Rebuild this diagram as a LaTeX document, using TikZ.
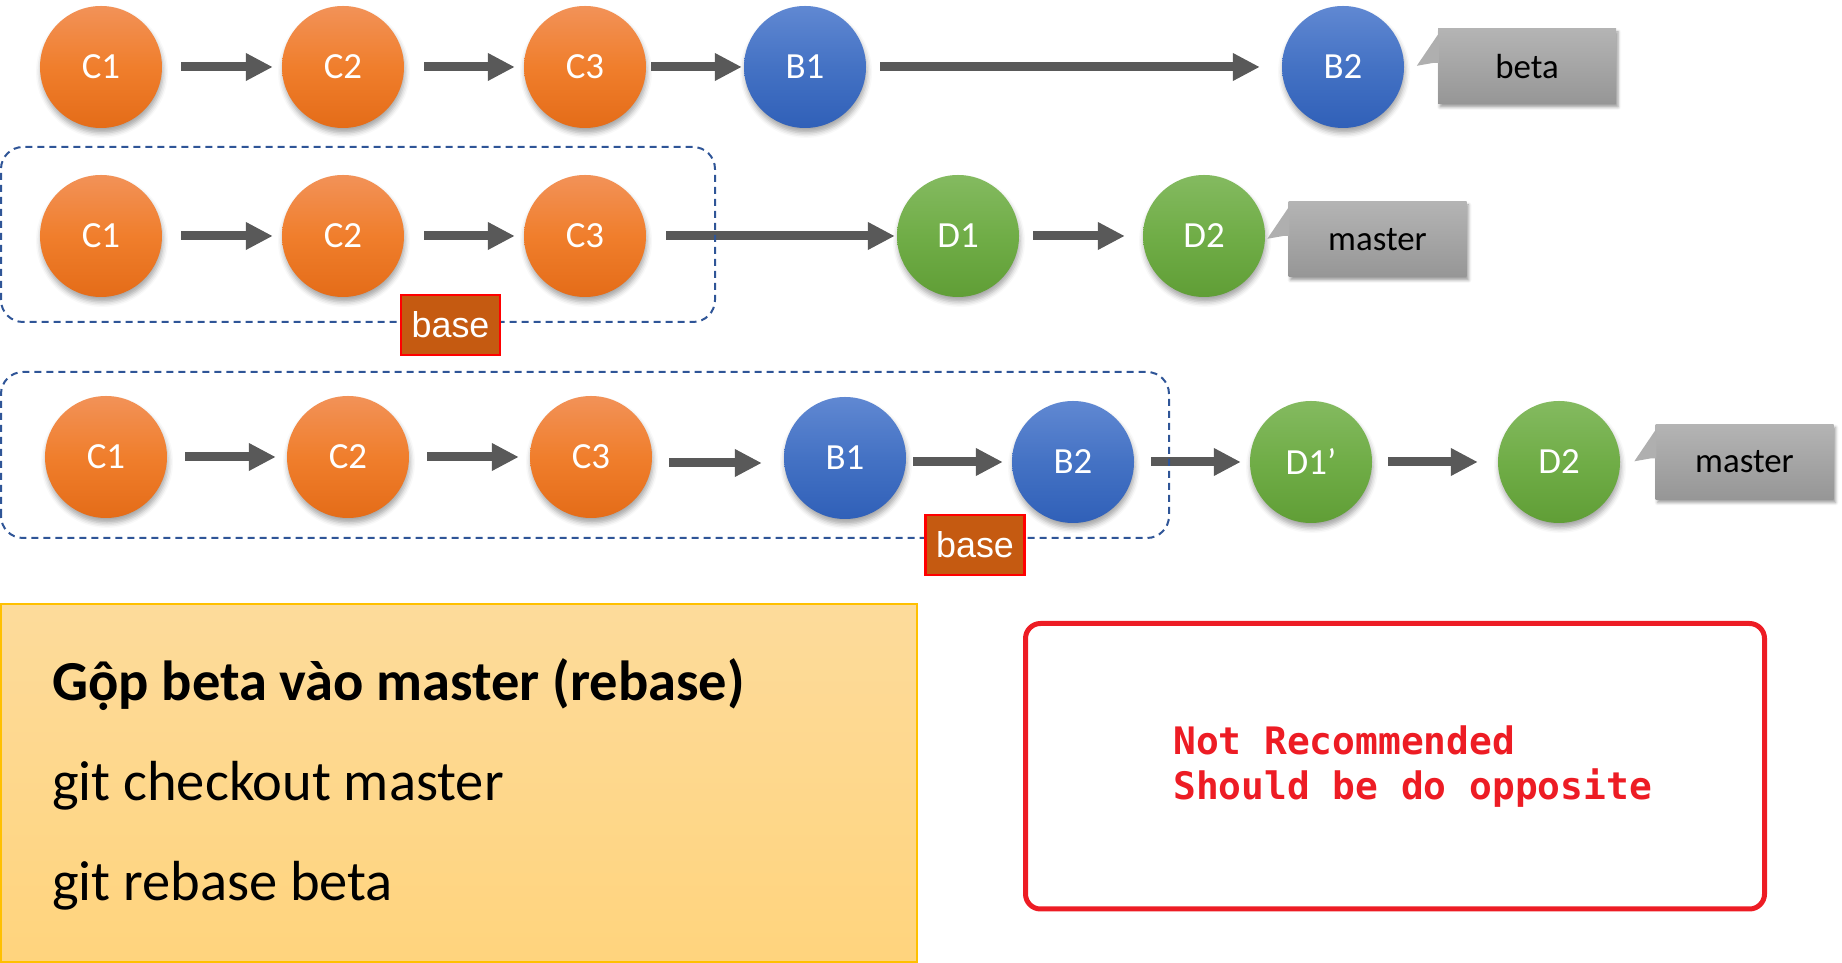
\documentclass[tikz,border=0pt]{standalone}
\usepackage{fontspec}
\setmainfont{Carlito}
\newfontfamily\arialfont{Liberation Sans}
\newfontfamily\codefont{DejaVu Sans Mono}
\usetikzlibrary{arrows.meta,shadows,shadows.blur}
\definecolor{oT}{RGB}{242,146,88}
\definecolor{oM}{RGB}{240,126,44}
\definecolor{oB}{RGB}{228,108,24}
\definecolor{bT}{RGB}{96,136,210}
\definecolor{bM}{RGB}{68,114,196}
\definecolor{bB}{RGB}{48,96,184}
\definecolor{gT}{RGB}{132,186,96}
\definecolor{gM}{RGB}{112,173,71}
\definecolor{gB}{RGB}{96,158,54}
\definecolor{lT}{RGB}{180,180,180}
\definecolor{lB}{RGB}{150,150,150}
\definecolor{arrowgray}{RGB}{89,89,89}
\definecolor{dashblue}{RGB}{47,85,151}
\definecolor{baseorange}{RGB}{197,90,17}
\definecolor{panelT}{RGB}{253,219,155}
\definecolor{panelB}{RGB}{255,212,125}
\definecolor{panelEdge}{RGB}{255,192,0}
\definecolor{warnred}{RGB}{237,28,36}
\tikzset{
  commit/.style={circle, minimum size=122bp, inner sep=0pt, text=white,
    font=\fontsize{37}{40}\selectfont, shading=axis,
    blur shadow={shadow xshift=1bp, shadow yshift=-5bp, shadow blur radius=5bp, shadow opacity=35}},
  orangec/.style={commit, top color=oT, bottom color=oB, middle color=oM},
  bluec/.style={commit, top color=bT, bottom color=bB, middle color=bM},
  greenc/.style={commit, top color=gT, bottom color=gB, middle color=gM},
  conn/.style={draw=arrowgray, line width=9bp, -{Triangle[length=27bp,width=26bp]}},
  branchlab/.style={rectangle, minimum width=178bp, minimum height=75bp, inner sep=0pt,
    top color=lT, bottom color=lB, text=black, font=\fontsize{35}{40}\selectfont,
    blur shadow={shadow xshift=2bp, shadow yshift=-3bp, shadow blur radius=3bp, shadow opacity=40}},
  tail/.style={fill=lT!97!black},
  groupbox/.style={draw=dashblue, line width=2bp, dash pattern=on 7bp off 5bp, rounded corners=22bp},
  basebox/.style={rectangle, minimum width=99bp, minimum height=60bp, inner sep=0pt,
    fill=baseorange, draw=red, line width=2.5bp, text=white,
    font=\arialfont\fontsize{36}{40}\selectfont},
  paneltext/.style={anchor=base west, inner sep=0pt, text=black, font=\fontsize{56.7}{60}\selectfont},
}
\begin{document}
\begin{tikzpicture}[x=1bp,y=1bp]
\useasboundingbox (0,0) rectangle (1842,962);
% row 1
\node[orangec] (C1a) at (101,895) {C1};
\node[orangec] (C2a) at (343,895) {C2};
\node[orangec] (C3a) at (585,895) {C3};
\node[bluec]   (B1a) at (805,895) {B1};
\node[bluec]   (B2a) at (1343,895) {B2};
\node[branchlab] (Lbeta) at (1527,895.5) {beta};
\fill[tail] ([yshift=-6bp]Lbeta.north west) -- ([xshift=-21bp,yshift=-37bp]Lbeta.north west)
  -- ([xshift=-4bp,yshift=-34bp]Lbeta.north west) -- ([xshift=1bp,yshift=-34bp]Lbeta.north west)
  -- ([xshift=1bp,yshift=-6bp]Lbeta.north west) -- cycle;
\draw[conn, shorten <=19bp, shorten >=9bp] (C1a) -- (C2a);
\draw[conn, shorten <=20bp, shorten >=9bp] (C2a) -- (C3a);
\draw[conn, shorten <=5bp, shorten >=2bp] (C3a) -- (B1a);
\draw[conn, shorten <=14bp, shorten >=22bp] (B1a) -- (B2a);
% row 2
\node[orangec] (C1b) at (101,726) {C1};
\node[orangec] (C2b) at (343,726) {C2};
\node[orangec] (C3b) at (585,726) {C3};
\node[greenc]  (D1b) at (958,726) {D1};
\node[greenc]  (D2b) at (1204,726) {D2};
\node[branchlab] (Lmaster1) at (1377.5,722.5) {master};
\fill[tail] ([yshift=-6bp]Lmaster1.north west) -- ([xshift=-21bp,yshift=-37bp]Lmaster1.north west)
  -- ([xshift=-4bp,yshift=-34bp]Lmaster1.north west) -- ([xshift=1bp,yshift=-34bp]Lmaster1.north west)
  -- ([xshift=1bp,yshift=-6bp]Lmaster1.north west) -- cycle;
\draw[conn, shorten <=19bp, shorten >=9bp] (C1b) -- (C2b);
\draw[conn, shorten <=20bp, shorten >=9bp] (C2b) -- (C3b);
\draw[conn, shorten <=20bp, shorten >=2bp] (C3b) -- (D1b);
\draw[conn, shorten <=14bp, shorten >=18bp] (D1b) -- (D2b);
\draw[groupbox] (1,640) rectangle (715,815);
\node[basebox] (base1) at (450.5,637) {base};
% row 3
\node[orangec] (C1c) at (106,505) {C1};
\node[orangec] (C2c) at (348,505) {C2};
\node[orangec] (C3c) at (591,505) {C3};
\node[bluec]   (B1c) at (845,504) {B1};
\node[bluec]   (B2c) at (1073,500) {B2};
\node[greenc]  (D1c) at (1311,500) {D1’};
\node[greenc]  (D2c) at (1559,500) {D2};
\node[branchlab] (Lmaster2) at (1744.5,500) {master};
\fill[tail] ([yshift=-6bp]Lmaster2.north west) -- ([xshift=-21bp,yshift=-37bp]Lmaster2.north west)
  -- ([xshift=-4bp,yshift=-34bp]Lmaster2.north west) -- ([xshift=1bp,yshift=-34bp]Lmaster2.north west)
  -- ([xshift=1bp,yshift=-6bp]Lmaster2.north west) -- cycle;
\draw[conn, shorten <=18bp, shorten >=11bp] (C1c) -- (C2c);
\draw[conn, shorten <=18bp, shorten >=11bp] (C2c) -- (C3c);
\draw[conn, shorten <=17bp, shorten >=22bp] ([yshift=-6bp]C3c.east) -- ([yshift=-6bp]C3c.east -| B1c.west);
\draw[conn, shorten <=7bp, shorten >=9bp] (B1c.east |- B2c) -- (B2c.west);
\draw[conn, shorten <=17bp, shorten >=9bp] (B2c) -- (D1c);
\draw[conn, shorten <=16bp, shorten >=20bp] (D1c) -- (D2c);
\draw[groupbox] (1,424) rectangle (1169,590);
\node[basebox] (base2) at (975,417) {base};
% bottom left panel
\draw[panelEdge, line width=2bp, top color=panelT, bottom color=panelB] (1,0) rectangle (917,358);
\node[paneltext, font=\bfseries\fontsize{56.7}{60}\selectfont] (title) at (52,261.5) {Gộp beta vào master (rebase)};
\node[paneltext] (cmd1) at (52,161.5) {git checkout master};
\node[paneltext] (cmd2) at (52,61.5) {git rebase beta};
% bottom right note
\draw[warnred, line width=5bp, rounded corners=15bp] (1025.5,53) rectangle (1764.5,338.5);
\node[anchor=base west, inner sep=0pt, text=warnred, align=left,
  font=\codefont\bfseries\fontsize{38}{46}\selectfont] (note) at (1173,162) {Not Recommended\\Should be do opposite};
\end{tikzpicture}
\end{document}
